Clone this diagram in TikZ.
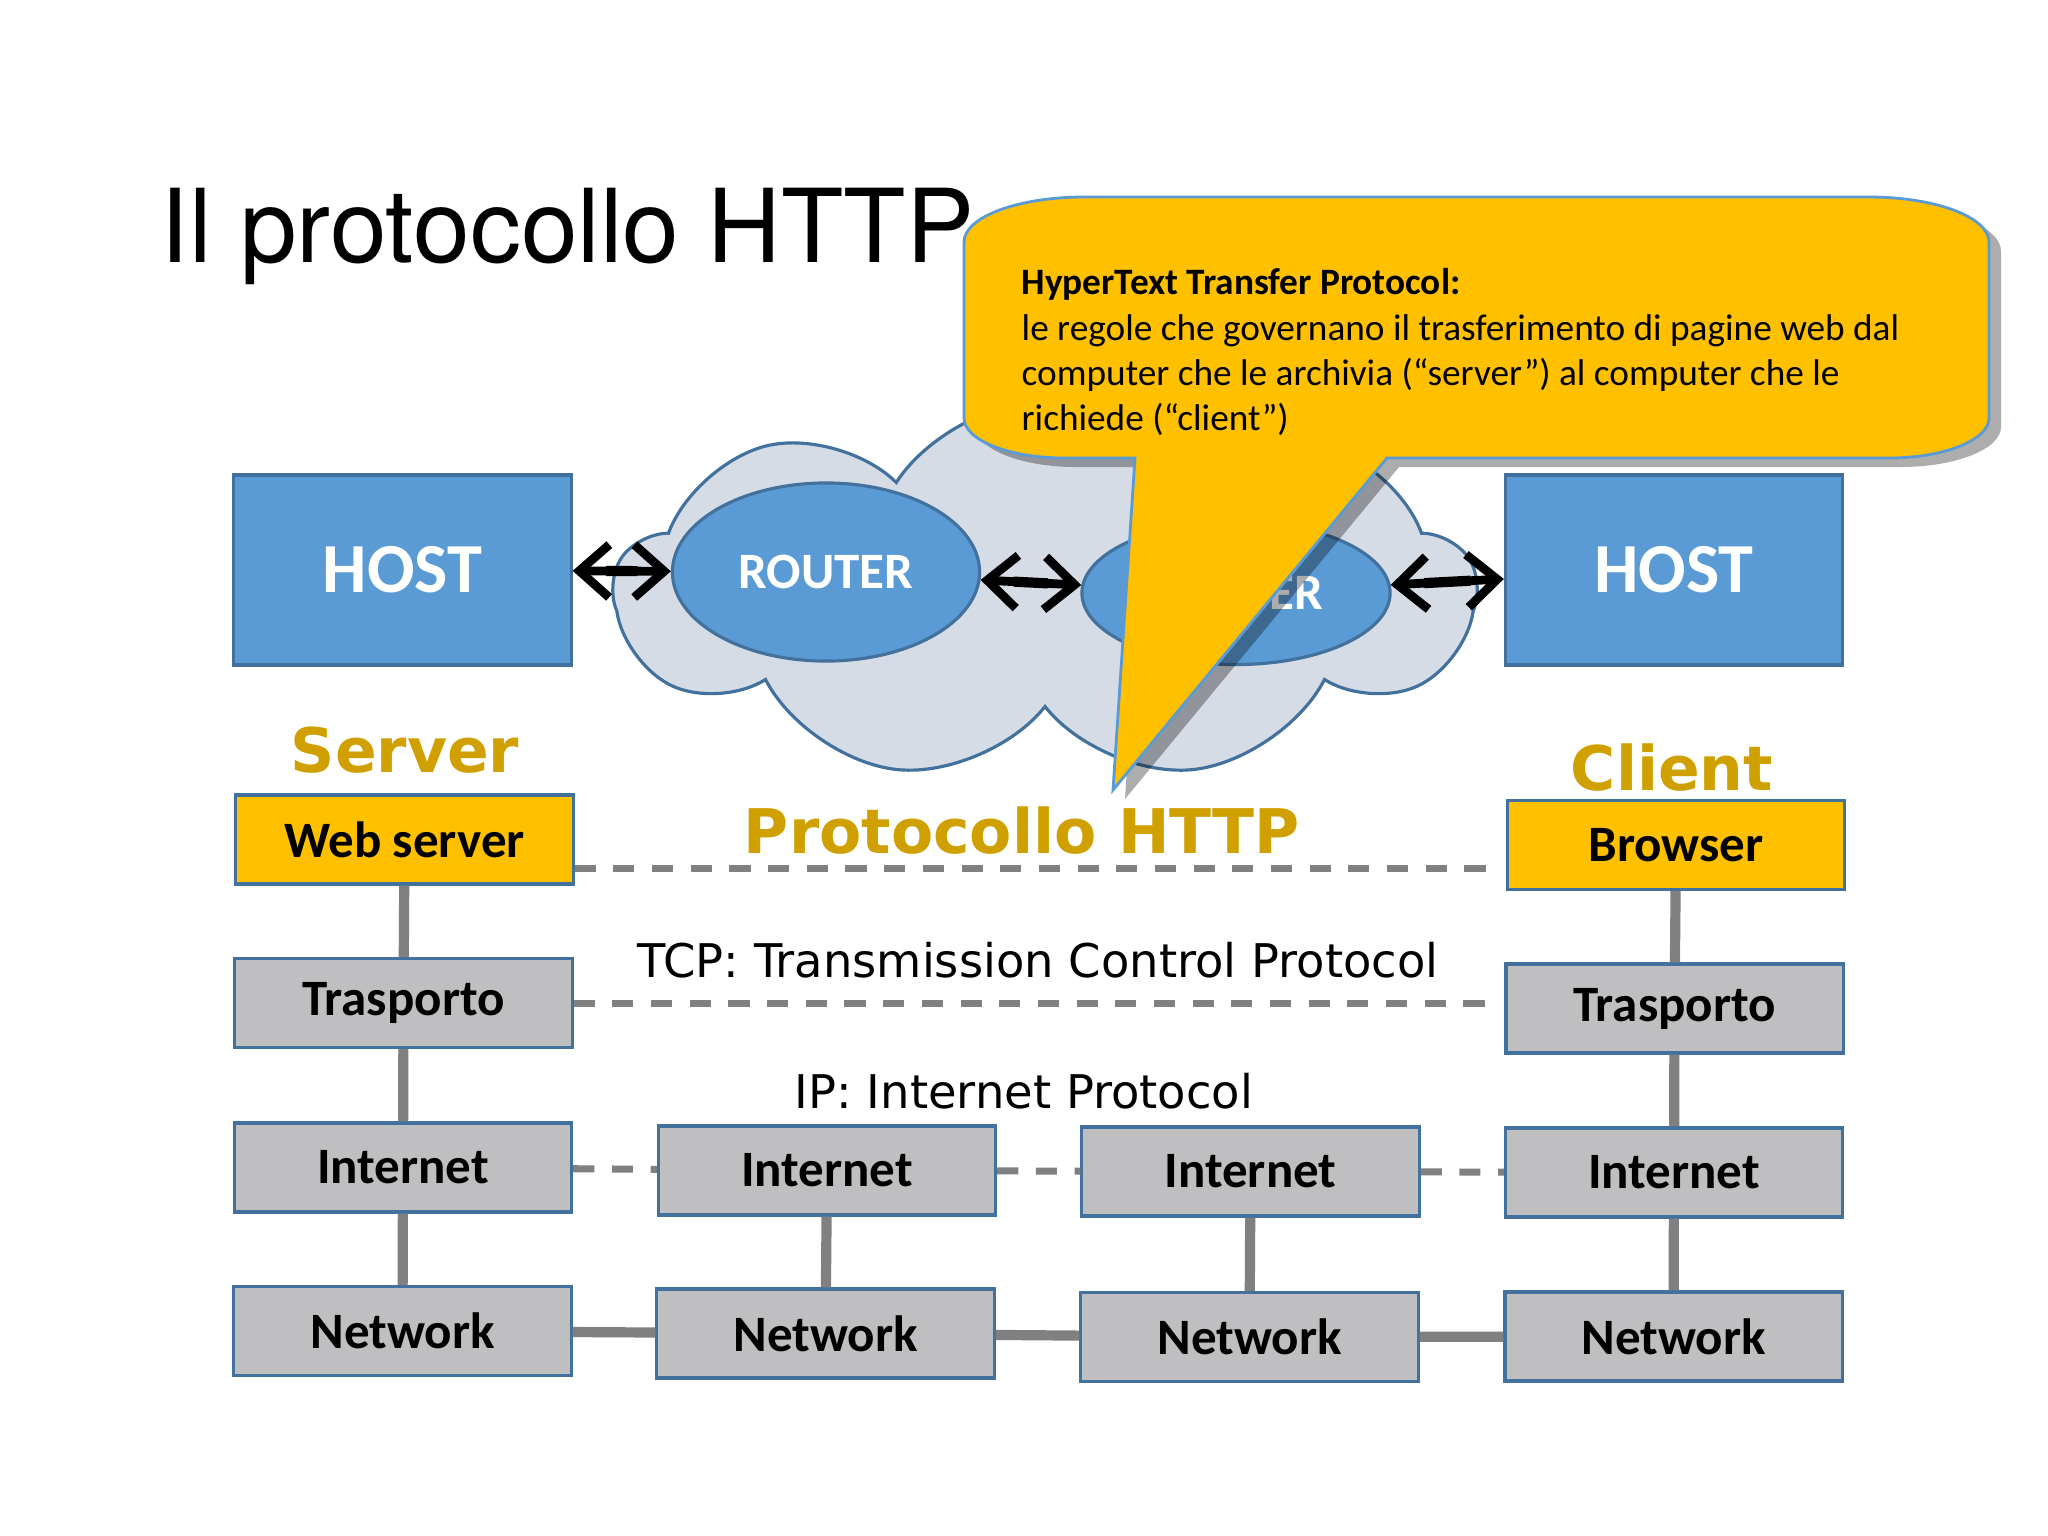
\documentclass[tikz,border=0pt]{standalone}
\usepackage{fontspec}
\setmainfont{Carlito}
\newfontfamily\dejavu{DejaVu Sans}
\newfontfamily\heros{TeX Gyre Heros}
\usetikzlibrary{shapes.geometric,shapes.symbols,arrows.meta}

\definecolor{hostblue}{HTML}{5B9BD5}
\definecolor{edgeblue}{HTML}{41719C}
\definecolor{layergrey}{HTML}{BFBFC1}
\definecolor{appyellow}{HTML}{FFC000}
\definecolor{gold}{HTML}{CFA000}
\definecolor{cloudgrey}{HTML}{D6DCE5}
\definecolor{linegrey}{HTML}{808080}

\tikzset{
  box/.style={draw=edgeblue, line width=0.9pt, minimum width=3.37cm, minimum height=0.89cm,
    inner sep=0pt, font=\fontsize{14.5}{17}\selectfont\bfseries},
  layer/.style={box, fill=layergrey},
  app/.style={box, fill=appyellow},
  host/.style={box, fill=hostblue, minimum height=1.9cm, text=white,
    font=\fontsize{20}{24}\selectfont\bfseries},
  router/.style={ellipse, draw=edgeblue, line width=0.9pt, fill=hostblue, text=white,
    inner sep=0pt, font=\fontsize{14.5}{17}\selectfont\bfseries},
  link/.style={linegrey, line width=2.9pt},
  peer/.style={linegrey, line width=2pt, dash pattern=on 6pt off 5pt},
  hophead/.style={tips, draw=black, line width=2.5pt,
    {Straight Barb[length=8.5pt,width=15pt]}-{Straight Barb[length=8.5pt,width=15pt]}},
  hopbar/.style={line width=2.9pt, shorten <=9.5pt, shorten >=9.5pt},
  role/.style={text=gold, font=\dejavu\bfseries\fontsize{17.5}{21}\selectfont},
  proto/.style={font=\dejavu\fontsize{13.2}{16}\selectfont},
}

% speech bubble outline
\newcommand{\bubble}{(1084,197) -- (1869,197) .. controls (1935,197) and (1989,217) .. (1989,242)
  -- (1989,418) .. controls (1989,440) and (1944,458) .. (1889,458) -- (1387,458) -- (1113,790)
  -- (1135,458) -- (1064,458) .. controls (1009,458) and (964,440) .. (964,418)
  -- (964,242) .. controls (964,217) and (1018,197) .. (1084,197) -- cycle}

\begin{document}
\begin{tikzpicture}[x=0.01cm, y=-0.01cm]
  \useasboundingbox (0,0) rectangle (2048,1535);

  % Title
  \node[anchor=base west, inner sep=0pt, font=\heros\fontsize{29}{33}\selectfont] (title) at (160,262) {Il protocollo HTTP};

  % Cloud and routers
  \node[cloud, cloud puffs=9, cloud puff arc=115, aspect=2.4, draw=edgeblue, fill=cloudgrey,
        line width=0.9pt, minimum width=8.6cm, minimum height=3.8cm] (net) at (1045,591) {};
  \node[router, minimum width=3.07cm, minimum height=1.78cm] (r1) at (826,572) {ROUTER};
  \node[router, minimum width=3.08cm, minimum height=1.43cm] (r2) at (1236,593) {ROUTER};

  % Hosts
  \node[host] (h1) at (402.5,570) {HOST};
  \node[host] (h2) at (1674,570) {HOST};

  % Hops
  \path[hophead] (h1) -- (r1);
  \draw[hopbar] (h1) -- (r1);
  \path[hophead] (r1) -- (r2);
  \draw[hopbar] (r1) -- (r2);
  \path[hophead] (r2) -- (h2);
  \draw[hopbar] (r2) -- (h2);

  % Callout
  \fill[black, opacity=0.32, shift={(12,9)}] \bubble;
  \draw[fill=appyellow, draw=hostblue, line width=0.8pt] \bubble;
  \node[anchor=north west, align=left, inner sep=0pt, font=\fontsize{10.6}{12.9}\selectfont] (note) at (1021,268)
    {\textbf{HyperText Transfer Protocol:}\\
     le regole che governano il trasferimento di pagine web dal\\
     computer che le archivia (“server”) al computer che le\\
     richiede (“client”)};

  % Labels
  \node[role, anchor=base] (srv) at (405,772) {Server};
  \node[role, anchor=base] (cli) at (1672,790) {Client};
  \node[role, anchor=base] (http) at (1022,853) {Protocollo HTTP};
  \node[proto, anchor=base] (tcp) at (1038,977) {TCP: Transmission Control Protocol};
  \node[proto, anchor=base] (ip) at (1024,1108) {IP: Internet Protocol};

  % Server stack
  \node[app] (websrv) at (404.5,839.5) {Web server};
  \node[layer] (tr1) at (403.5,1003) {Trasporto};
  \node[layer] (in1) at (403,1167.5) {Internet};
  \node[layer] (nw1) at (402.5,1331) {Network};
  % Router stacks
  \node[layer] (in2) at (827,1170.5) {Internet};
  \node[layer] (nw2) at (825.5,1333.5) {Network};
  \node[layer] (in3) at (1250.5,1171.5) {Internet};
  \node[layer] (nw3) at (1249.5,1337) {Network};
  % Client stack
  \node[app] (brw) at (1676,845) {Browser};
  \node[layer] (tr2) at (1674.5,1008.5) {Trasporto};
  \node[layer] (in4) at (1674,1172.5) {Internet};
  \node[layer] (nw4) at (1673.5,1336.5) {Network};

  % Links
  \draw[link] (websrv) -- (tr1) -- (in1) -- (nw1);
  \draw[link] (in2) -- (nw2);
  \draw[link] (in3) -- (nw3);
  \draw[link] (brw) -- (tr2) -- (in4) -- (nw4);
  \draw[link] (nw1) -- (nw2) -- (nw3) -- (nw4);

  % Peer protocols
  \coordinate (httpA) at ([yshift=-0.29cm]websrv.east);
  \draw[peer, shorten >=0.2cm] (httpA) -- (httpA -| brw.west);
  \draw[peer, shorten >=0.18cm] (tr1.east) -- (tr1.east -| tr2.west);
  \draw[peer] (in1) -- (in2);
  \draw[peer] (in2) -- (in3);
  \draw[peer] (in3) -- (in4);
\end{tikzpicture}
\end{document}
